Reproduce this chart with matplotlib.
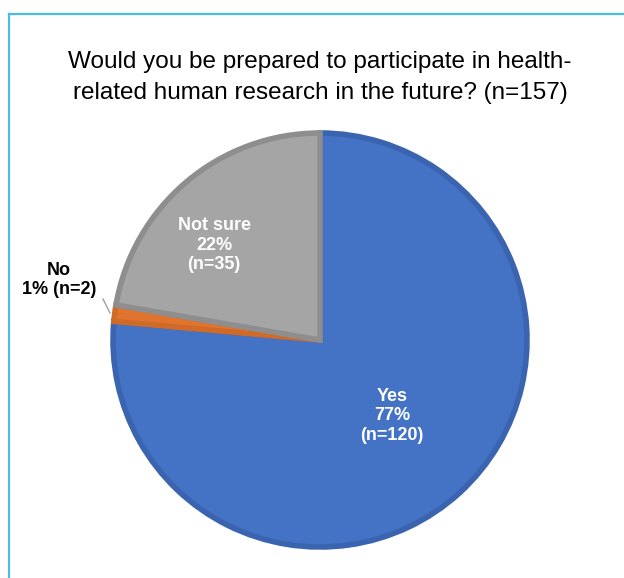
import matplotlib.pyplot as plt
from matplotlib.lines import Line2D

labels = ['Yes', 'No', 'Not sure']
counts = [120, 2, 35]
pcts = ['77%', '1%', '22%']
colors = ['#4472C4', '#E0742F', '#A5A5A5']
edges = ['#3A64B0', '#D06A28', '#8E8E8E']

W, H = 624, 578
fig = plt.figure(figsize=(W / 100, H / 100), dpi=100)
ax = fig.add_axes([0, 0, 1, 1])

# light blue frame, only top and left edges show
fig.add_artist(Line2D([8.5 / W, 1], [1 - 13.5 / H, 1 - 13.5 / H], color='#4BBCE6', lw=1.6))
fig.add_artist(Line2D([8.5 / W, 8.5 / W], [0, 1 - 13.5 / H], color='#4BBCE6', lw=1.6))

fig.text(320 / W, 1 - 62 / H, 'Would you be prepared to participate in health-',
         ha='center', va='center', fontsize=17.5, family='Liberation Sans')
fig.text(320 / W, 1 - 93 / H, 'related human research in the future? (n=157)',
         ha='center', va='center', fontsize=17.5, family='Liberation Sans')

cx, cy, r = 320, H - 340, 207
wedges, _ = ax.pie(counts, colors=colors, startangle=90, counterclock=False,
                   center=(cx, cy), radius=r, frame=True)
for w, ec in zip(wedges, edges):
    w.set_edgecolor(ec)
    w.set_linewidth(4)
    w.set_clip_path(w)
ax.set_xlim(0, W)
ax.set_ylim(0, H)
ax.set_aspect('equal')
ax.axis('off')

lab = dict(ha='center', va='center', fontsize=13, fontweight='bold',
           family='Liberation Sans', linespacing=1.22)
ax.text(392, H - 416, f'{labels[0]}\n{pcts[0]}\n(n={counts[0]})', color='white', **lab)
ax.text(214, H - 245, f'{labels[2]}\n{pcts[2]}\n(n={counts[2]})', color='white', **lab)
ax.text(59, H - 280, f'{labels[1]}\n{pcts[1]} (n={counts[1]})', color='black', **lab)
ax.plot([103, 110], [H - 299, H - 313], color='#A0A0A0', lw=1)

fig.savefig('out.png', dpi=100)
